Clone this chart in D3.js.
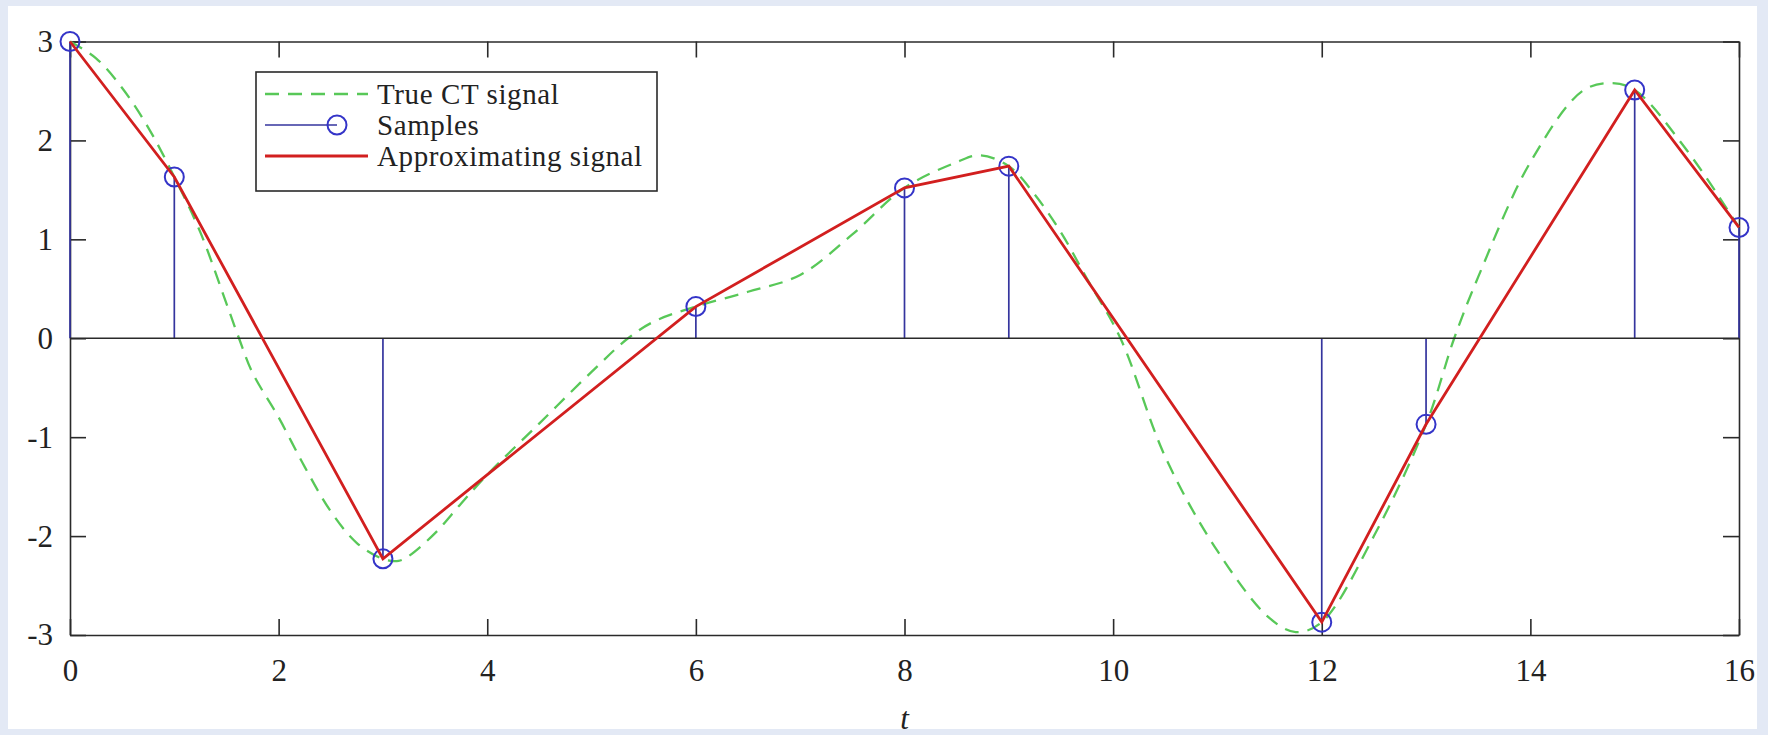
<!DOCTYPE html>
<html>
<head>
<meta charset="utf-8">
<script src="https://cdn.jsdelivr.net/npm/d3@7"></script>
<style>
  html, body { margin: 0; padding: 0; background: #e3e9f5; }
  svg { display: block; }
</style>
</head>
<body>
<svg id="chart" width="1768" height="735"></svg>
<script>
// Sampling instants and sampled values
const sampleT = [0, 1, 3, 6, 8, 9, 12, 13, 15, 16];
const sampleV = [3, 1.63, -2.23, 0.32, 1.52, 1.74, -2.87, -0.87, 2.51, 1.12];

// Continuous-time signal, traced at intermediate instants
const trueT = [0, 0.25, 0.5, 0.75, 1, 1.25, 1.5, 1.62, 1.75, 2, 2.25, 2.5, 2.75, 3, 3.15, 3.25, 3.5, 3.75, 4, 4.5, 5, 5.35, 5.6, 6, 6.5, 7, 7.5, 8, 8.5, 8.72, 9, 9.25, 9.5, 9.75, 10.07, 10.5, 11, 11.5, 11.75, 12, 12.5, 13, 13.27, 13.5, 14, 14.5, 14.77, 15, 15.5, 16];
const trueV = [3, 2.83, 2.53, 2.13, 1.63, 1.07, 0.35, 0, -0.35, -0.8, -1.3, -1.75, -2.07, -2.23, -2.25, -2.2, -1.97, -1.67, -1.38, -0.86, -0.34, 0, 0.17, 0.32, 0.47, 0.64, 1.05, 1.52, 1.78, 1.85, 1.74, 1.45, 1.07, 0.6, 0, -1.2, -2.15, -2.83, -2.97, -2.87, -2.0, -0.87, 0, 0.62, 1.78, 2.5, 2.58, 2.51, 1.9, 1.12];

const xTicks = [0, 2, 4, 6, 8, 10, 12, 14, 16];
const yTicks = [-3, -2, -1, 0, 1, 2, 3];
const legendLabels = ["True CT signal", "Samples", "Approximating signal"];
const xLabel = "t";

const svg = d3.select("#chart");
const W = 1768, H = 735;
const plotL = 70, plotR = 1739, plotT = 41.5, plotB = 635;

const FONT = "'Liberation Serif', 'Times New Roman', serif";
const FS = 31;
const green = "#58c858", red = "#d21f1f", stemBlue = "#35359e", circBlue = "#3434c8", axisCol = "#2a2a2a";

// page panel
svg.append("rect").attr("x", 8).attr("y", 6).attr("width", W - 19).attr("height", H - 12).attr("fill", "#ffffff");

const x = d3.scaleLinear().domain([0, 16]).range([plotL, plotR]);
const y = d3.scaleLinear().domain([-3, 3]).range([plotB, plotT]);

// axes with inward ticks on all four sides
const fmt = d => String(d);
const tickLen = 16;
const gx = svg.append("g").attr("transform", `translate(0,${plotB})`)
  .call(d3.axisBottom(x).tickValues(xTicks).tickFormat(fmt).tickSizeInner(-tickLen).tickSizeOuter(0).tickPadding(24));
const gxTop = svg.append("g").attr("transform", `translate(0,${plotT})`)
  .call(d3.axisTop(x).tickValues(xTicks).tickFormat("").tickSizeInner(-tickLen).tickSizeOuter(0));
const gy = svg.append("g").attr("transform", `translate(${plotL},0)`)
  .call(d3.axisLeft(y).tickValues(yTicks).tickFormat(fmt).tickSizeInner(-tickLen).tickSizeOuter(0).tickPadding(17));
const gyRight = svg.append("g").attr("transform", `translate(${plotR},0)`)
  .call(d3.axisRight(y).tickValues(yTicks).tickFormat("").tickSizeInner(-tickLen).tickSizeOuter(0));

[gx, gxTop, gy, gyRight].forEach(g => {
  g.selectAll("path.domain").attr("stroke", axisCol).attr("stroke-width", 1.6);
  g.selectAll(".tick line").attr("stroke", axisCol).attr("stroke-width", 1.6);
  g.selectAll(".tick text").attr("fill", "#222").attr("font-family", FONT).attr("font-size", FS);
});
gx.selectAll(".tick text").attr("dy", "0.71em");

// axis title
svg.append("text")
  .attr("x", (plotL + plotR) / 2).attr("y", 729)
  .attr("text-anchor", "middle")
  .attr("font-family", FONT).attr("font-style", "italic").attr("font-size", FS).attr("fill", "#222")
  .text(xLabel);

// continuous-time signal
const trueData = trueT.map((t, i) => [t, trueV[i]]);
svg.append("path")
  .datum(trueData)
  .attr("fill", "none").attr("stroke", green).attr("stroke-width", 2.3)
  .attr("stroke-dasharray", "14,9")
  .attr("d", d3.line().x(d => x(d[0])).y(d => y(d[1])).curve(d3.curveCatmullRom.alpha(0.5)));

// stems
const samples = sampleT.map((t, i) => [t, sampleV[i]]);
svg.append("g").selectAll("line").data(samples).join("line")
  .attr("x1", d => x(d[0])).attr("x2", d => x(d[0]))
  .attr("y1", y(0)).attr("y2", d => y(d[1]))
  .attr("stroke", stemBlue).attr("stroke-width", 1.7);

// stem baseline
svg.append("line")
  .attr("x1", x(0)).attr("x2", x(16)).attr("y1", y(0)).attr("y2", y(0))
  .attr("stroke", axisCol).attr("stroke-width", 1.6);

// sample markers
svg.append("g").selectAll("circle").data(samples).join("circle")
  .attr("cx", d => x(d[0])).attr("cy", d => y(d[1])).attr("r", 9.5)
  .attr("fill", "none").attr("stroke", circBlue).attr("stroke-width", 2);

// linear interpolation between samples
svg.append("path")
  .datum(samples)
  .attr("fill", "none").attr("stroke", red).attr("stroke-width", 2.8)
  .attr("d", d3.line().x(d => x(d[0])).y(d => y(d[1])));

// legend
const LFS = 29;
const lg = svg.append("g");
lg.append("rect").attr("x", 256).attr("y", 72).attr("width", 401).attr("height", 119)
  .attr("fill", "#ffffff").attr("stroke", axisCol).attr("stroke-width", 1.6);
const rowY = [94, 125, 156];
const lx0 = 265, lx1 = 368;
lg.append("line").attr("x1", lx0).attr("x2", lx1).attr("y1", rowY[0]).attr("y2", rowY[0])
  .attr("stroke", green).attr("stroke-width", 2.3).attr("stroke-dasharray", "14,9");
lg.append("line").attr("x1", lx0).attr("x2", 337).attr("y1", rowY[1]).attr("y2", rowY[1])
  .attr("stroke", stemBlue).attr("stroke-width", 1.7);
lg.append("circle").attr("cx", 337).attr("cy", rowY[1]).attr("r", 9.5)
  .attr("fill", "none").attr("stroke", circBlue).attr("stroke-width", 2);
lg.append("line").attr("x1", lx0).attr("x2", lx1).attr("y1", rowY[2]).attr("y2", rowY[2])
  .attr("stroke", red).attr("stroke-width", 2.8);
lg.selectAll("text").data(legendLabels).join("text")
  .attr("x", 377).attr("y", (d, i) => rowY[i]).attr("dy", "0.33em")
  .attr("font-family", FONT).attr("font-size", LFS).attr("letter-spacing", 0.6).attr("fill", "#222")
  .text(d => d);
</script>
</body>
</html>
